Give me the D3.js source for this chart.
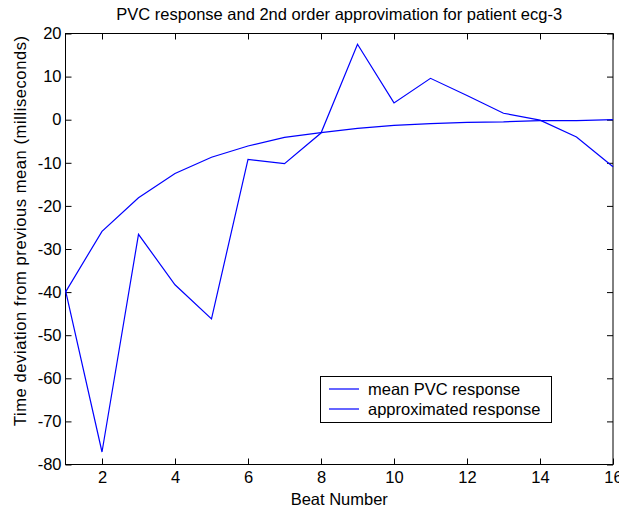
<!DOCTYPE html>
<html>
<head>
<meta charset="utf-8">
<script src="https://cdn.jsdelivr.net/npm/d3@7"></script>
<style>
  body { margin: 0; background: #fff; }
  svg { display: block; font-family: "Liberation Sans", Arial, sans-serif; }
</style>
</head>
<body>
<svg id="chart" width="619" height="508"></svg>
<script>
// Beat index
const beats = [1, 2, 3, 4, 5, 6, 7, 8, 9, 10, 11, 12, 13, 14, 15, 16];
// Mean PVC response (ms deviation from previous mean)
const meanResponse = [-39.6, -77.1, -26.6, -38.3, -46.2, -9.2, -10.2, -3.1, 17.5, 3.9, 9.6, 5.6, 1.5, -0.1, -4.0, -10.9];
// Second-order approximation
const approxResponse = [-40.0, -25.9, -18.1, -12.5, -8.7, -6.1, -4.1, -3.0, -2.0, -1.3, -0.9, -0.6, -0.5, -0.2, -0.2, 0.0];

const xTicks = [2, 4, 6, 8, 10, 12, 14, 16];
const yTicks = [-80, -70, -60, -50, -40, -30, -20, -10, 0, 10, 20];
const seriesNames = ["mean PVC response", "approximated response"];

const svg = d3.select("#chart");
const plotL = 65.5, plotR = 613, plotT = 33.5, plotB = 464.5;

const x = d3.scaleLinear().domain([1, 16]).range([plotL, plotR]);
const y = d3.scaleLinear().domain([-80, 20]).range([plotB, plotT]);

const lineColor = "#0000ff";
const fontSize = 16.5;
const plainNumber = d => String(d); // hyphen-minus, not the typographic minus

// Plot frame
svg.append("rect")
  .attr("x", plotL).attr("y", plotT)
  .attr("width", plotR - plotL).attr("height", plotB - plotT)
  .attr("fill", "#fff").attr("stroke", "#000").attr("stroke-width", 1);

// Axes with inward ticks (bottom/left labelled, top/right mirrored)
function styleAxis(g) {
  g.select(".domain").remove();
  g.selectAll(".tick line").attr("stroke", "#000");
  g.selectAll(".tick text").attr("fill", "#000").style("font-size", fontSize + "px")
    .style("font-family", "'Liberation Sans', Arial, sans-serif");
}

svg.append("g").attr("transform", `translate(0,${plotB})`)
  .call(d3.axisBottom(x).tickValues(xTicks).tickSize(-6).tickPadding(7).tickFormat(plainNumber))
  .call(styleAxis);
svg.append("g").attr("transform", `translate(0,${plotT})`)
  .call(d3.axisTop(x).tickValues(xTicks).tickSize(-6).tickFormat(""))
  .call(styleAxis);
svg.append("g").attr("transform", `translate(${plotL},0)`)
  .call(d3.axisLeft(y).tickValues(yTicks).tickSize(-6).tickPadding(4).tickFormat(plainNumber))
  .call(styleAxis);
svg.append("g").attr("transform", `translate(${plotR},0)`)
  .call(d3.axisRight(y).tickValues(yTicks).tickSize(-6).tickFormat(""))
  .call(styleAxis);

// Series lines
const line = d3.line().x((d, i) => x(beats[i])).y(d => y(d));
[meanResponse, approxResponse].forEach(vals => {
  svg.append("path")
    .datum(vals)
    .attr("d", line)
    .attr("fill", "none")
    .attr("stroke", lineColor)
    .attr("stroke-width", 1.2);
});

// Title and axis labels
svg.append("text")
  .attr("x", (plotL + plotR) / 2).attr("y", 20)
  .attr("text-anchor", "middle").style("font-size", fontSize + "px")
  .text("PVC response and 2nd order approvimation for patient ecg-3");

svg.append("text")
  .attr("x", (plotL + plotR) / 2).attr("y", 505)
  .attr("text-anchor", "middle").style("font-size", fontSize + "px")
  .text("Beat Number");

svg.append("text")
  .attr("transform", `translate(26,231) rotate(-90)`)
  .attr("text-anchor", "middle").style("font-size", fontSize + "px")
  .attr("textLength", 390).attr("lengthAdjust", "spacing")
  .text("Time deviation from previous mean (milliseconds)");

// Legend
const lg = svg.append("g");
lg.append("rect")
  .attr("x", 320.5).attr("y", 376.5).attr("width", 231).attr("height", 46)
  .attr("fill", "#fff").attr("stroke", "#000").attr("stroke-width", 1);
seriesNames.forEach((name, i) => {
  const cy = 389 + i * 20;
  lg.append("line")
    .attr("x1", 329).attr("x2", 359).attr("y1", cy).attr("y2", cy)
    .attr("stroke", lineColor).attr("stroke-width", 1.2);
  lg.append("text")
    .attr("x", 368).attr("y", cy + 5.5)
    .style("font-size", fontSize + "px")
    .text(name);
});
</script>
</body>
</html>
